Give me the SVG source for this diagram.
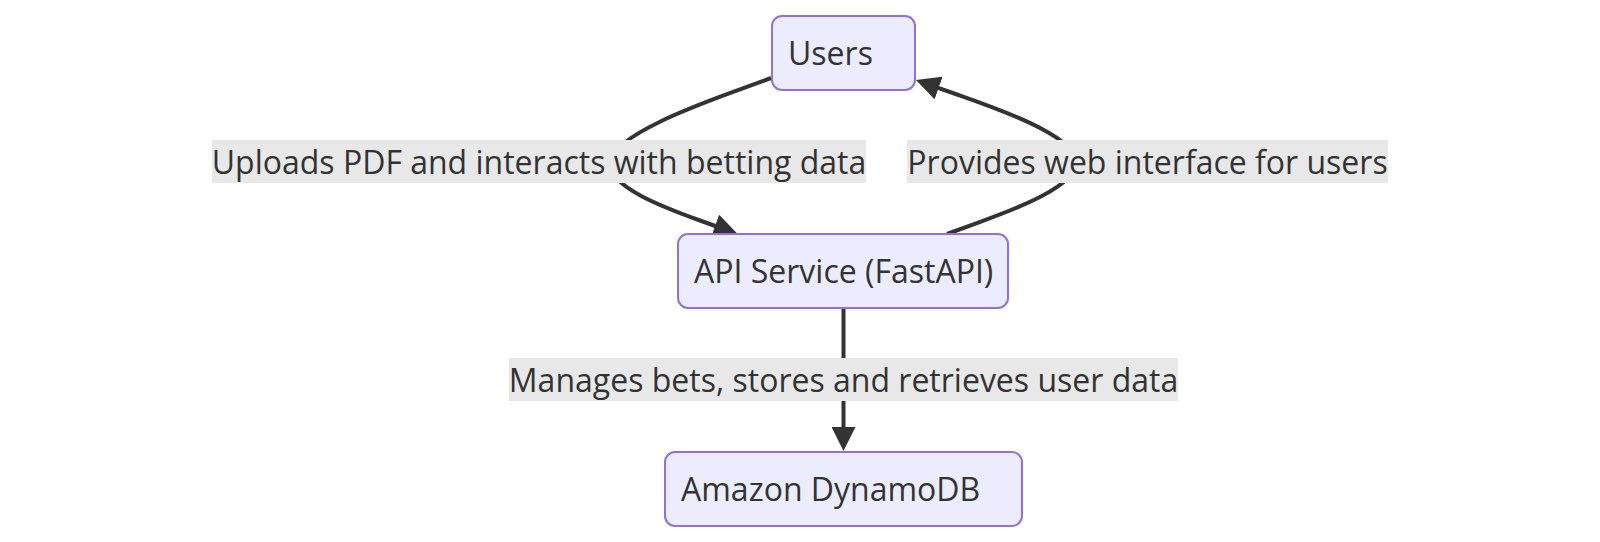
<svg xmlns="http://www.w3.org/2000/svg" width="1600" height="542" viewBox="0 0 1600 542">
<style>
.node rect{fill:#ECECFF;stroke:#9370DB;stroke-width:2}
.node text,.lbl text{font-family:"Open Sans",sans-serif;font-size:32px;fill:#333}
.edge{fill:none;stroke:#333;stroke-width:4}
.lbl rect{fill:#e8e8e8}
</style>
<defs>
<marker id="arr" viewBox="0 0 10 10" refX="7.5" refY="5" markerUnits="userSpaceOnUse" markerWidth="24" markerHeight="24" orient="auto">
<path d="M0,0 L10,5 L0,10 z" fill="#333"/>
</marker>
</defs>
<rect width="1600" height="542" fill="#fff"/>
<g id="connectors">
<path class="edge" marker-end="url(#arr)" d="M771,78 L732.5,92.2 C694,106.3 617,134.7 610.5,160.3 C604,186 668,209 700,220.5 L732,232"/>
<path class="edge" marker-end="url(#arr)" d="M947,234 L980.3,221.8 C1013.7,209.7 1080.3,185.3 1076.1,160 C1071.9,134.7 996.7,108.4 959.2,95.25 L921.6,82.1"/>
<path class="edge" marker-end="url(#arr)" d="M843.5,308 L843.5,445"/>
</g>
<g id="labels">
<g class="lbl" id="label-upload"><rect x="212" y="140" width="654" height="43"/><text x="539" y="174" text-anchor="middle">Uploads PDF and interacts with betting data</text></g>
<g class="lbl" id="label-web"><rect x="907" y="140" width="481" height="43"/><text x="1147.5" y="174" text-anchor="middle">Provides web interface for users</text></g>
<g class="lbl" id="label-manage"><rect x="509" y="358" width="669" height="43"/><text x="843.5" y="392" text-anchor="middle">Manages bets, stores and retrieves user data</text></g>
</g>
<g class="node" id="users"><rect x="772" y="16" width="143" height="74" rx="10"/><text x="788" y="65">Users</text></g>
<g class="node" id="api"><rect x="678" y="234" width="330" height="74" rx="10"/><text x="694" y="283">API Service (FastAPI)</text></g>
<g class="node" id="dynamodb"><rect x="665" y="452" width="357" height="74" rx="10"/><text x="681" y="501">Amazon DynamoDB</text></g>
</svg>
